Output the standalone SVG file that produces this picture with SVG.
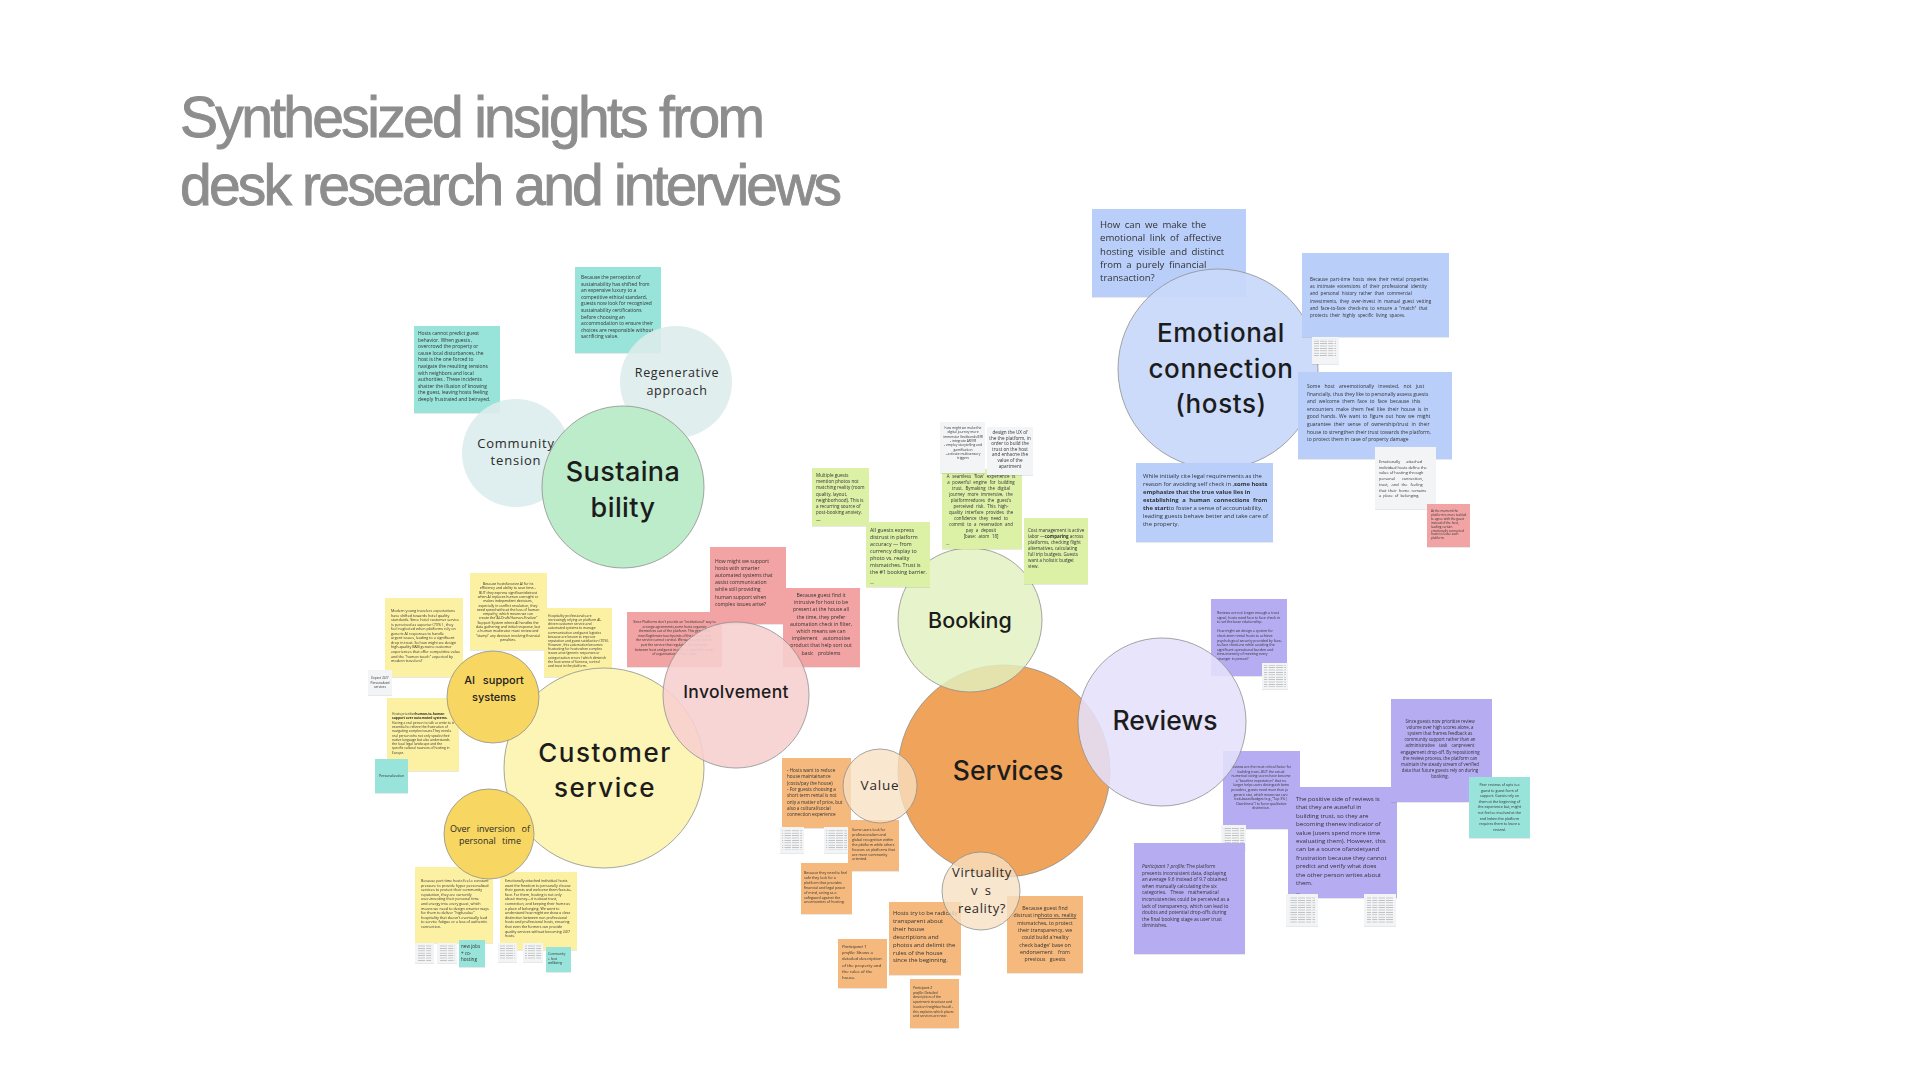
<svg xmlns="http://www.w3.org/2000/svg" width="1920" height="1080" viewBox="0 0 1920 1080">
<defs>
<style>
.title{font-family:"Liberation Sans",Arial,sans-serif;font-weight:400;font-size:57px;fill:#8d8d8d;stroke:#8d8d8d;stroke-width:0.9}
.big{font-family:Inter,"Liberation Sans",sans-serif;font-weight:500;fill:#1c1c1c;text-anchor:middle}
.sub{font-family:"Open Sans","Noto Sans",sans-serif;fill:#2a2a2a;text-anchor:middle}
.n{font-family:"Open Sans","Noto Sans",sans-serif;fill:#333333}
.c{text-anchor:middle}
.circ{stroke:#8f8f8f;stroke-width:0.8}
.teal{fill:#98e3da}
.yel{fill:#fcf1a3}
.pink{fill:#f2a3a3}
.grn{fill:#dcf0a6}
.blu{fill:#b9cffa}
.pur{fill:#b6acf2}
.org{fill:#f5b97d}
.wht{fill:#f3f4f6}
.note{filter:url(#sh)}
</style>
<filter id="sh" x="-10%" y="-10%" width="120%" height="120%">
<feDropShadow dx="0" dy="0.6" stdDeviation="0.7" flood-color="#000" flood-opacity="0.15"/>
</filter>
<pattern id="scrib" width="22" height="2.4" patternUnits="userSpaceOnUse">
<rect x="0" y="0" width="7" height="0.6" fill="#a8a8a8"/>
<rect x="8.2" y="0" width="5" height="0.6" fill="#a8a8a8"/>
<rect x="14.5" y="0" width="6.5" height="0.6" fill="#a8a8a8"/>
</pattern>
</defs>
<rect width="1920" height="1080" fill="#ffffff"/>

<g id="title">
<text class="title" x="180" y="137" textLength="585" lengthAdjust="spacing">Synthesized insights from</text>
<text class="title" x="180" y="205" textLength="662" lengthAdjust="spacing">desk research and interviews</text>
</g>

<g id="connectors"/>

<!-- ============ SUSTAINABILITY ============ -->
<g id="note-hosts-cannot-predict" class="note">
<rect class="teal" x="414" y="326" width="86" height="87"/>
<text class="n" x="418" y="335" font-size="4.9"><tspan x="418">Hosts cannot predict guest</tspan><tspan x="418" dy="6.6">behavior. When guests  ,</tspan><tspan x="418" dy="6.6">overcrowd the property or</tspan><tspan x="418" dy="6.6">cause local disturbances, the</tspan><tspan x="418" dy="6.6">host is the one forced to</tspan><tspan x="418" dy="6.6">navigate the  resulting tensions</tspan><tspan x="418" dy="6.6">with neighbors and local</tspan><tspan x="418" dy="6.6">authorities . These incidents</tspan><tspan x="418" dy="6.6">shatter the illusion of knowing</tspan><tspan x="418" dy="6.6">the guest, leaving hosts feeling</tspan><tspan x="418" dy="6.6">deeply frustrated and betrayed.</tspan></text>
</g>
<g id="note-sustainability-perception" class="note">
<rect class="teal" x="575" y="267" width="86" height="86"/>
<text class="n" x="581" y="279" font-size="4.9"><tspan x="581">Because the perception of</tspan><tspan x="581" dy="6.6">sustainability has shifted from</tspan><tspan x="581" dy="6.6">an expensive luxury to a</tspan><tspan x="581" dy="6.6">competitive ethical standard,</tspan><tspan x="581" dy="6.6">guests now look for recognized</tspan><tspan x="581" dy="6.6">sustainability certifications</tspan><tspan x="581" dy="6.6">before choosing an</tspan><tspan x="581" dy="6.6">accommodation to ensure their</tspan><tspan x="581" dy="6.6">choices are responsible without</tspan><tspan x="581" dy="6.6">sacrificing value.</tspan></text>
</g>
<g id="community-tension">
<circle cx="516" cy="453" r="54" fill="#dcecec" fill-opacity="0.9"/>
<text class="sub" x="516" y="448" font-size="13" letter-spacing="0.8">Community</text>
<text class="sub" x="516" y="465" font-size="13" letter-spacing="0.8">tension</text>
</g>
<g id="regenerative-approach">
<circle cx="676" cy="382" r="56" fill="#dcecec" fill-opacity="0.88"/>
<text class="sub" x="677" y="377" font-size="12.5" letter-spacing="0.7">Regenerative</text>
<text class="sub" x="677" y="395" font-size="12.5" letter-spacing="0.7">approach</text>
</g>
<g id="sustainability">
<circle class="circ" cx="623" cy="487" r="81" fill="#bcecca"/>
<text class="big" x="623" y="481" font-size="27" letter-spacing="0.4">Sustaina</text>
<text class="big" x="623" y="517" font-size="27" letter-spacing="0.4">bility</text>
</g>

<!-- ============ CUSTOMER SERVICE ============ -->
<g id="note-modern-travelers" class="note">
<rect class="yel" x="385" y="598" width="78" height="79"/>
<text class="n" x="391" y="612" font-size="3.7"><tspan x="391">Modern young travelers expectations</tspan><tspan x="391" dy="4.55">have shifted towards hotel quality</tspan><tspan x="391" dy="4.55">standards. Since hotel customer service</tspan><tspan x="391" dy="4.55">is perceived as superior (73% ) , they</tspan><tspan x="391" dy="4.55">feel neglected when platforms rely on</tspan><tspan x="391" dy="4.55">generic AI responses to handle</tspan><tspan x="391" dy="4.55">urgent issues, leading to a significant</tspan><tspan x="391" dy="4.55">drop in trust. So how might we design</tspan><tspan x="391" dy="4.55">high-quality B&amp;B genuine customer</tspan><tspan x="391" dy="4.55">experiences that offer competitive value</tspan><tspan x="391" dy="4.55">and the "human touch" expected by</tspan><tspan x="391" dy="4.55">modern travelers?</tspan></text>
</g>
<g id="note-ai-efficiency" class="note">
<rect class="yel" x="470" y="573" width="77" height="77"/>
<text class="n c" x="508" y="585" font-size="3.5"><tspan x="508">Because  hostsfavorize AI for its</tspan><tspan x="508" dy="4.3">efficiency and ability to save time...</tspan><tspan x="508" dy="4.3">BUT they express significantdistrust</tspan><tspan x="508" dy="4.3">when AI replaces human oversight or</tspan><tspan x="508" dy="4.3">makes independent decisions,</tspan><tspan x="508" dy="4.3">especially in conflict resolution, they</tspan><tspan x="508" dy="4.3">need speed without the loss of human</tspan><tspan x="508" dy="4.3">empathy, which means we can</tspan><tspan x="508" dy="4.3">create  the"AI-Draft/Human-Finalize"</tspan><tspan x="508" dy="4.3">Support  System where AI handles the</tspan><tspan x="508" dy="4.3">data gathering and initial response, but</tspan><tspan x="508" dy="4.3">a human moderator must review and</tspan><tspan x="508" dy="4.3">"stamp" any decision involving financial</tspan><tspan x="508" dy="4.3">penalties.</tspan></text>
</g>
<g id="note-hospitality-professionals" class="note">
<rect class="yel" x="544" y="608" width="68" height="69"/>
<text class="n" x="548" y="617" font-size="3.3"><tspan x="548">Hospitality professionals are</tspan><tspan x="548" dy="4.15">increasingly relying on platform AI-</tspan><tspan x="548" dy="4.15">driven customer service and</tspan><tspan x="548" dy="4.15">automated systems to manage</tspan><tspan x="548" dy="4.15">communication and guest logistics</tspan><tspan x="548" dy="4.15">because are known to improve</tspan><tspan x="548" dy="4.15">reputation and guest satisfaction (70%).</tspan><tspan x="548" dy="4.15">However, this automation becomes</tspan><tspan x="548" dy="4.15">frustrating for hosts when complex</tspan><tspan x="548" dy="4.15">issues arise (generic responses or</tspan><tspan x="548" dy="4.15">categorization errors ) which diminish</tspan><tspan x="548" dy="4.15">the host sense of fairness, control</tspan><tspan x="548" dy="4.15">and trust in the platform.</tspan></text>
</g>
<g id="note-expect-24-7" class="note">
<rect class="wht" x="368" y="670" width="24" height="25"/>
<text class="n c" x="380" y="679" font-size="3.2"><tspan x="380">Expect 24/7</tspan><tspan x="380" dy="4.5">Personalized</tspan><tspan x="380" dy="4.5">services</tspan></text>
</g>
<g id="note-human-to-human" class="note">
<rect class="yel" x="387" y="698" width="72" height="73"/>
<text class="n" x="392" y="715" font-size="3.3"><tspan x="392">Hosts prioritize</tspan><tspan font-weight="700">human-to-human</tspan><tspan x="392" dy="4.3" font-weight="700">support over automated systems.</tspan><tspan x="392" dy="4.3">Having a real person to talk or write to is</tspan><tspan x="392" dy="4.3">essential to relieve the frustration of</tspan><tspan x="392" dy="4.3">navigating complex issues.They need a</tspan><tspan x="392" dy="4.3">real person who not only speaks their</tspan><tspan x="392" dy="4.3">native language but also understands</tspan><tspan x="392" dy="4.3">the local legal landscape and the</tspan><tspan x="392" dy="4.3">specific cultural nuances of hosting in</tspan><tspan x="392" dy="4.3">Europe.</tspan></text>
</g>
<g id="note-personalization" class="note">
<rect class="teal" x="375" y="759" width="33" height="34"/>
<text class="n c" x="391.5" y="777" font-size="3.5">Personalization</text>
</g>
<g id="note-part-time-pressure" class="note">
<rect class="yel" x="415" y="867" width="78" height="76"/>
<text class="n" x="421" y="882" font-size="3.7"><tspan x="421">Because part time hosts feel a constant</tspan><tspan x="421" dy="4.6">pressure to provide hyper personalized</tspan><tspan x="421" dy="4.6">services to protect their community</tspan><tspan x="421" dy="4.6">reputation, they are currently</tspan><tspan x="421" dy="4.6">over-investing their personal time</tspan><tspan x="421" dy="4.6">and energy into every guest, which</tspan><tspan x="421" dy="4.6">means we need to design smarter ways</tspan><tspan x="421" dy="4.6">for them to deliver "high-value"</tspan><tspan x="421" dy="4.6">hospitality that doesn't eventually lead</tspan><tspan x="421" dy="4.6">to service fatigue or a loss of authentic</tspan><tspan x="421" dy="4.6">connection.</tspan></text>
</g>
<g id="note-emotionally-attached-freedom" class="note">
<rect class="yel" x="500" y="872" width="77" height="78"/>
<text class="n" x="505" y="882" font-size="3.6"><tspan x="505">Emotionally attached individual hosts</tspan><tspan x="505" dy="4.6">want the freedom to personally choose</tspan><tspan x="505" dy="4.6">their guests and welcome them face-to-</tspan><tspan x="505" dy="4.6">face. For them, hosting is not only</tspan><tspan x="505" dy="4.6">about money—it is about trust,</tspan><tspan x="505" dy="4.6">connection, and keeping their home as</tspan><tspan x="505" dy="4.6">a place of belonging. We want to</tspan><tspan x="505" dy="4.6">understand how might we draw a clear</tspan><tspan x="505" dy="4.6">distinction between non professional</tspan><tspan x="505" dy="4.6">hosts and professional hosts, ensuring</tspan><tspan x="505" dy="4.6">that even the formers can provide</tspan><tspan x="505" dy="4.6">quality services without becoming 24/7</tspan><tspan x="505" dy="4.6">hosts.</tspan></text>
</g>
<g id="thumbs-customer-service" class="note">
<rect class="wht" x="415" y="943" width="19" height="20"/><rect x="417" y="945" width="15" height="16" fill="url(#scrib)"/>
<rect class="wht" x="437" y="943" width="20" height="20"/><rect x="439" y="945" width="16" height="16" fill="url(#scrib)"/>
<rect class="wht" x="498" y="943" width="19" height="19"/><rect x="500" y="945" width="15" height="15" fill="url(#scrib)"/>
<rect class="wht" x="523" y="943" width="20" height="19"/><rect x="525" y="945" width="16" height="15" fill="url(#scrib)"/>
</g>
<g id="note-new-jobs" class="note">
<rect class="teal" x="459" y="940" width="26" height="27"/>
<text class="n" x="461" y="948" font-size="4.6"><tspan x="461">new jobs</tspan><tspan x="461" dy="6.5">+ co-</tspan><tspan x="461" dy="6.5">hosting</tspan></text>
</g>
<g id="note-community-wellbeing" class="note">
<rect class="teal" x="546" y="947" width="25" height="25"/>
<text class="n" x="548" y="955" font-size="3.2"><tspan x="548">Community</tspan><tspan x="548" dy="4.6">+ host</tspan><tspan x="548" dy="4.6">wellbeing</tspan></text>
</g>
<g id="customer-service">
<circle class="circ" cx="604" cy="768" r="100" fill="#fdf5b6"/>
<text class="big" x="605" y="762" font-size="26" letter-spacing="1.5">Customer</text>
<text class="big" x="605" y="797" font-size="26" letter-spacing="1.5">service</text>
</g>
<g id="ai-support-systems">
<circle class="circ" cx="493" cy="697" r="46" fill="#f7d662"/>
<text class="big" x="494" y="684" font-size="11" word-spacing="5">AI support</text>
<text class="big" x="494" y="701" font-size="11">systems</text>
</g>
<g id="over-inversion">
<circle class="circ" cx="489" cy="834" r="45" fill="#f7d662"/>
<text class="sub" x="490" y="832" font-size="9" word-spacing="4">Over inversion of</text>
<text class="sub" x="490" y="844" font-size="9" word-spacing="4">personal time</text>
</g>

<!-- ============ INVOLVEMENT ============ -->
<g id="note-smarter-automated" class="note">
<rect class="pink" x="710" y="547" width="76" height="77"/>
<text class="n" x="715" y="563" font-size="5.1"><tspan x="715">How might we support</tspan><tspan x="715" dy="7.1">hosts with smarter</tspan><tspan x="715" dy="7.1">automated systems that</tspan><tspan x="715" dy="7.1">assist communication</tspan><tspan x="715" dy="7.1">while still providing</tspan><tspan x="715" dy="7.1">human support when</tspan><tspan x="715" dy="7.1">complex issues arise?</tspan></text>
</g>
<g id="note-institutional-way" class="note">
<rect class="pink" x="627" y="612" width="95" height="55"/>
<text class="n c" x="674.5" y="623" font-size="3.3"><tspan x="674.5">Since Platforms don't provide an "institutional" way to</tspan><tspan x="674.5" dy="4.6">arrange  agreements,some  hosts  organize</tspan><tspan x="674.5" dy="4.6">themselves  out  of  the  platform.  This  generates</tspan><tspan x="674.5" dy="4.6">new illegitimate touchpoints of the service, that</tspan><tspan x="674.5" dy="4.6">the service cannot control. We want tomprove  the</tspan><tspan x="674.5" dy="4.6">part  the  service  that  regulates  the  exchange</tspan><tspan x="674.5" dy="4.6">between host and guest in order to meet the needs</tspan><tspan x="674.5" dy="4.6">of organisations of the hosts.</tspan></text>
</g>
<g id="note-intrusive-host" class="note">
<rect class="pink" x="783" y="588" width="77" height="79"/>
<text class="n c" x="821" y="597" font-size="5.1"><tspan x="821">Because guest find it</tspan><tspan x="821" dy="7.2">intrusive for host to be</tspan><tspan x="821" dy="7.2">present at the house all</tspan><tspan x="821" dy="7.2">the time, they prefer</tspan><tspan x="821" dy="7.2">automation check in filter,</tspan><tspan x="821" dy="7.2">which means we can</tspan><tspan x="821" dy="7.2" word-spacing="4">implement automotive</tspan><tspan x="821" dy="7.2">product that help sort out</tspan><tspan x="821" dy="7.2" word-spacing="3">basic problems</tspan></text>
</g>
<g id="involvement">
<circle class="circ" cx="736" cy="695" r="73" fill="#f7cfcf" fill-opacity="0.88"/>
<text class="big" x="736" y="698" font-size="17.5" letter-spacing="0.3">Involvement</text>
</g>

<!-- ============ SERVICES ============ -->
<g id="services">
<circle class="circ" cx="1004" cy="771" r="106" fill="#f0a35b"/>
<text class="big" x="1008" y="780" font-size="26.5">Services</text>
</g>

<!-- ============ BOOKING ============ -->
<g id="booking">
<circle class="circ" cx="970" cy="620" r="72" fill="#e2f2c0" fill-opacity="0.82"/>
<text class="big" x="970" y="628" font-size="21.5">Booking</text>
</g>
<g id="note-photos-not-matching" class="note">
<rect class="grn" x="812" y="468" width="57" height="58"/>
<text class="n" x="816" y="477" font-size="4.6"><tspan x="816">Multiple guests</tspan><tspan x="816" dy="6.2">mention photos not</tspan><tspan x="816" dy="6.2">matching reality (room</tspan><tspan x="816" dy="6.2">quality, layout,</tspan><tspan x="816" dy="6.2">neighborhood). This is</tspan><tspan x="816" dy="6.2">a recurring source of</tspan><tspan x="816" dy="6.2">post-booking anxiety.</tspan><tspan x="816" dy="8">—</tspan></text>
</g>
<g id="note-distrust-accuracy" class="note">
<rect class="grn" x="866" y="522" width="64" height="65"/>
<text class="n" x="870" y="532" font-size="5.3"><tspan x="870">All guests express</tspan><tspan x="870" dy="7">distrust in platform</tspan><tspan x="870" dy="7">accuracy — from</tspan><tspan x="870" dy="7">currency display to</tspan><tspan x="870" dy="7">photo vs. reality</tspan><tspan x="870" dy="7">mismatches. Trust is</tspan><tspan x="870" dy="7">the #1 booking barrier.</tspan><tspan x="870" dy="10" font-size="4">—</tspan></text>
</g>
<g id="note-seamless-flow" class="note">
<rect class="grn" x="942" y="469" width="80" height="80"/>
<text class="n c" x="981" y="478" font-size="4.4"><tspan x="981" word-spacing="1.5">A seamless 'flow' experience is</tspan><tspan x="981" dy="6" word-spacing="1.5">a powerful engine for building</tspan><tspan x="981" dy="6" word-spacing="1.5">trust. Bymaking the digital</tspan><tspan x="981" dy="6" word-spacing="1.5">journey more immersive, the</tspan><tspan x="981" dy="6" word-spacing="1.5">platformreduces the guest's</tspan><tspan x="981" dy="6" word-spacing="1.5">perceived risk. This high-</tspan><tspan x="981" dy="6" word-spacing="1.5">quality interface provides the</tspan><tspan x="981" dy="6" word-spacing="1.5">confidence they need to</tspan><tspan x="981" dy="6" word-spacing="1.5">commit to a reservation and</tspan><tspan x="981" dy="6" word-spacing="1.5">pay a deposit</tspan><tspan x="981" dy="6" word-spacing="1.5">[base: atom 18]</tspan></text>
<text class="n" x="946" y="545" font-size="3.5">—</text>
</g>
<g id="note-cost-management" class="note">
<rect class="grn" x="1024" y="518" width="64" height="66"/>
<text class="n" x="1028" y="532" font-size="4.5"><tspan x="1028">Cost management is active</tspan><tspan x="1028" dy="6">labor  —</tspan><tspan font-weight="700">comparing</tspan><tspan> across</tspan><tspan x="1028" dy="6">platforms, checking flight</tspan><tspan x="1028" dy="6">alternatives, calculating</tspan><tspan x="1028" dy="6">full trip budgets. Guests</tspan><tspan x="1028" dy="6">want a holistic budget</tspan><tspan x="1028" dy="6">view.</tspan></text>
</g>
<g id="note-digital-journey" class="note">
<rect class="wht" x="940" y="422" width="45" height="51"/>
<text class="n c" x="963" y="429" font-size="3.3"><tspan x="963">how might we make the</tspan><tspan x="963" dy="4.3">digital journey more</tspan><tspan x="963" dy="4.3">immersive  (levitbonds/ER)</tspan><tspan x="963" dy="4.3">- integrate AR/VR</tspan><tspan x="963" dy="4.3">- employ storytelling and</tspan><tspan x="963" dy="4.3">gamification</tspan><tspan x="963" dy="4.3">- activate multisensory</tspan><tspan x="963" dy="4.3">triggers</tspan></text>
</g>
<g id="note-design-ux" class="note">
<rect class="wht" x="987" y="427" width="46" height="48"/>
<text class="n c" x="1010" y="434" font-size="4.6"><tspan x="1010">design the UX of</tspan><tspan x="1010" dy="5.6">the  the platform, in</tspan><tspan x="1010" dy="5.6">order to build the</tspan><tspan x="1010" dy="5.6">trust on the host</tspan><tspan x="1010" dy="5.6">and enhacne the</tspan><tspan x="1010" dy="5.6">value of the</tspan><tspan x="1010" dy="5.6">apartment</tspan></text>
</g>

<!-- ============ VALUE / VIRTUALITY NOTES ============ -->
<g id="note-reduce-maintainance" class="note">
<rect class="org" x="782" y="758" width="69" height="70"/>
<text class="n" x="787" y="772" font-size="4.6"><tspan x="787">- Hosts want to reduce</tspan><tspan x="787" dy="6.3">house maintainance</tspan><tspan x="787" dy="6.3">(costs/pay the house)</tspan><tspan x="787" dy="6.3">- For guests choosing a</tspan><tspan x="787" dy="6.3">short term rental is not</tspan><tspan x="787" dy="6.3">only a matter of price, but</tspan><tspan x="787" dy="6.3">also a cultural/social</tspan><tspan x="787" dy="6.3">connection  experience</tspan></text>
</g>
<g id="thumbs-value" class="note">
<rect class="wht" x="780" y="827" width="24" height="26"/><rect x="782" y="829" width="20" height="21" fill="url(#scrib)"/>
<rect class="wht" x="824" y="827" width="26" height="26"/><rect x="826" y="829" width="21" height="21" fill="url(#scrib)"/>
</g>
<g id="note-professionalism" class="note">
<rect class="org" x="848" y="820" width="51" height="51"/>
<text class="n" x="852" y="831" font-size="3.6"><tspan x="852">Some users look for</tspan><tspan x="852" dy="4.9">professionalism and</tspan><tspan x="852" dy="4.9">global recognition within</tspan><tspan x="852" dy="4.9">the platform while others</tspan><tspan x="852" dy="4.9">focuses on platforms that</tspan><tspan x="852" dy="4.9">are more community</tspan><tspan x="852" dy="4.9">oriented.</tspan></text>
</g>
<g id="note-feel-safe" class="note">
<rect class="org" x="801" y="863" width="51" height="51"/>
<text class="n" x="804" y="874" font-size="3.6"><tspan x="804">Because they need to feel</tspan><tspan x="804" dy="4.9">safe they look for a</tspan><tspan x="804" dy="4.9">platform that provides</tspan><tspan x="804" dy="4.9">financial and legal peace</tspan><tspan x="804" dy="4.9">of mind, acting as a</tspan><tspan x="804" dy="4.9">safeguard against the</tspan><tspan x="804" dy="4.9">uncertainties of hosting.</tspan></text>
</g>
<g id="note-radically-transparent" class="note">
<rect class="org" x="889" y="902" width="72" height="73"/>
<text class="n" x="893" y="915" font-size="5.9"><tspan x="893">Hosts try to be radically</tspan><tspan x="893" dy="7.9">transparent about</tspan><tspan x="893" dy="7.9">their house</tspan><tspan x="893" dy="7.9">descriptions and</tspan><tspan x="893" dy="7.9">photos and delimit the</tspan><tspan x="893" dy="7.9">rules of the house</tspan><tspan x="893" dy="7.9">since the beginning.</tspan></text>
</g>
<g id="note-reality-check-badge" class="note">
<rect class="org" x="1007" y="896" width="76" height="77"/>
<text class="n c" x="1045" y="910" font-size="5.2"><tspan x="1045">Because guest find</tspan><tspan x="1045" dy="7.3">distrust in<tspan text-decoration="underline">photo vs. reality</tspan></tspan><tspan x="1045" dy="7.3">mismatches, to protect</tspan><tspan x="1045" dy="7.3">their transparency, we</tspan><tspan x="1045" dy="7.3">could build a'reality</tspan><tspan x="1045" dy="7.3">check badge' base on</tspan><tspan x="1045" dy="7.3" word-spacing="4">endorsement from</tspan><tspan x="1045" dy="7.3" word-spacing="3">previous guests</tspan></text>
</g>
<g id="note-participant1-description" class="note">
<rect class="org" x="838" y="939" width="49" height="49"/>
<text class="n" x="842" y="948" font-size="4.3"><tspan x="842" font-style="italic">Participant 1</tspan><tspan x="842" dy="6.2" font-style="italic">profile:</tspan><tspan> Shows a</tspan><tspan x="842" dy="6.2">detailed description</tspan><tspan x="842" dy="6.2">of the property and</tspan><tspan x="842" dy="6.2">the rules of the</tspan><tspan x="842" dy="6.2">house.</tspan></text>
</g>
<g id="note-participant2-description" class="note">
<rect class="org" x="910" y="979" width="49" height="49"/>
<text class="n" x="913" y="989" font-size="3.4"><tspan x="913" font-style="italic">Participant 2</tspan><tspan x="913" dy="4.7" font-style="italic">profile:</tspan><tspan> Detailed</tspan><tspan x="913" dy="4.7">description of the</tspan><tspan x="913" dy="4.7">apartment structure and</tspan><tspan x="913" dy="4.7">location (neighborhood) -</tspan><tspan x="913" dy="4.7">this explains which places</tspan><tspan x="913" dy="4.7">and services are near.</tspan></text>
</g>
<g id="value">
<circle class="circ" cx="880" cy="786" r="37" fill="#f8e0c2" fill-opacity="0.78"/>
<text class="sub" x="880" y="790" font-size="13.5" letter-spacing="0.8">Value</text>
</g>
<g id="virtuality-vs-reality">
<circle class="circ" cx="981" cy="891" r="39" fill="#f8e0c2" fill-opacity="0.8"/>
<text class="sub" x="982" y="877" font-size="13" letter-spacing="0.6">Virtuality</text>
<text class="sub" x="982" y="895" font-size="13" letter-spacing="2">v s</text>
<text class="sub" x="982" y="913" font-size="13" letter-spacing="0.6">reality?</text>
</g>

<!-- ============ REVIEWS ============ -->
<g id="note-reviews-not-enough" class="note">
<rect class="pur" x="1211" y="599" width="76" height="77"/>
<text class="n" x="1217" y="614" font-size="3.5"><tspan x="1217">Reviews are not longer enough a trust</tspan><tspan x="1217" dy="4.6">signal, hosts need face to face check in</tspan><tspan x="1217" dy="4.6">to set the base relationship.</tspan><tspan x="1217" dy="9.2">How might we design a system for</tspan><tspan x="1217" dy="4.6">short-term rental hosts to achieve</tspan><tspan x="1217" dy="4.6">psychological security provided by face-</tspan><tspan x="1217" dy="4.6">to-face check-ins while avoiding the</tspan><tspan x="1217" dy="4.6">significant operational burden and</tspan><tspan x="1217" dy="4.6">time-intensity of meeting every</tspan><tspan x="1217" dy="4.6">stranger in person?</tspan></text>
</g>
<g id="note-reviews-critical-factor" class="note">
<rect class="pur" x="1223" y="751" width="77" height="78"/>
<text class="n c" x="1261" y="768" font-size="3.4"><tspan x="1261">Reviews are the most critical factor for</tspan><tspan x="1261" dy="4.6">building  trust...BUT the actual</tspan><tspan x="1261" dy="4.6">numerical  rating  scores  have  become</tspan><tspan x="1261" dy="4.6">a  "baseline  expectation"  that  no</tspan><tspan x="1261" dy="4.6">longer helps users distinguish betw</tspan><tspan x="1261" dy="4.6">providers, guests need more than just</tspan><tspan x="1261" dy="4.6">generic star, which means we can i</tspan><tspan x="1261" dy="4.6">trait-based  badges  (e.g.,"Top 3% |</tspan><tspan x="1261" dy="4.6">Cleanliness") to force qualitative</tspan><tspan x="1261" dy="4.6">distinction.</tspan></text>
</g>
<g id="reviews">
<circle class="circ" cx="1162" cy="722" r="84" fill="#e4e0fb" fill-opacity="0.88"/>
<text class="big" x="1165" y="730" font-size="26.5">Reviews</text>
</g>
<g id="thumbs-reviews" class="note">
<rect class="wht" x="1262" y="663" width="26" height="26"/><rect x="1264" y="665" width="22" height="22" fill="url(#scrib)"/>
<rect class="wht" x="1221" y="825" width="25" height="25"/><rect x="1223" y="827" width="21" height="20" fill="url(#scrib)"/>
</g>
<g id="note-participant1-inconsistent" class="note">
<rect class="pur" x="1134" y="843" width="111" height="111"/>
<text class="n" x="1142" y="868" font-size="4.8"><tspan x="1142" font-style="italic">Participant 1 profile:</tspan><tspan> The platform</tspan><tspan x="1142" dy="6.6">presents inconsistent data, displaying</tspan><tspan x="1142" dy="6.6">an average 9.6 instead of 9.7 obtained</tspan><tspan x="1142" dy="6.6">when manually calculating the six</tspan><tspan x="1142" dy="6.6" word-spacing="3">categories. These mathematical</tspan><tspan x="1142" dy="6.6">inconsistencies could be perceived as a</tspan><tspan x="1142" dy="6.6">lack of transparency, which can lead to</tspan><tspan x="1142" dy="6.6">doubts and potential drop-offs during</tspan><tspan x="1142" dy="6.6">the final booking stage as user trust</tspan><tspan x="1142" dy="6.6">diminishes.</tspan></text>
</g>
<g id="note-positive-side" class="note">
<rect class="pur" x="1288" y="787" width="109" height="111"/>
<text class="n" x="1296" y="801" font-size="6.1"><tspan x="1296">The positive side of reviews is</tspan><tspan x="1296" dy="8.4">that they are auseful   in</tspan><tspan x="1296" dy="8.4">building   trust, so they are</tspan><tspan x="1296" dy="8.4">becoming   thenew indicator of</tspan><tspan x="1296" dy="8.4">value (users spend more time</tspan><tspan x="1296" dy="8.4">evaluating them). However, this</tspan><tspan x="1296" dy="8.4">can be a source ofanxietyand</tspan><tspan x="1296" dy="8.4">frustration because they cannot</tspan><tspan x="1296" dy="8.4">predict and verify what does</tspan><tspan x="1296" dy="8.4">the other person writes about</tspan><tspan x="1296" dy="8.4">them.</tspan></text>
<text class="n" x="1296" y="894" font-size="4">—</text>
</g>
<g id="thumbs-reviews-2" class="note">
<rect class="wht" x="1286" y="894" width="32" height="32"/><rect x="1289" y="897" width="26" height="26" fill="url(#scrib)"/>
<rect class="wht" x="1364" y="894" width="32" height="32"/><rect x="1367" y="897" width="26" height="26" fill="url(#scrib)"/>
</g>
<g id="note-review-volume" class="note">
<rect class="pur" x="1391" y="699" width="101" height="103"/>
<text class="n c" x="1440" y="723" font-size="4.4"><tspan x="1440">Since guests now prioritize review</tspan><tspan x="1440" dy="6.1">volume over high scores alone, a</tspan><tspan x="1440" dy="6.1">system that frames feedback as</tspan><tspan x="1440" dy="6.1">community support rather than an</tspan><tspan x="1440" dy="6.1" word-spacing="3">administrative task canprevent</tspan><tspan x="1440" dy="6.1">engagement  drop-off. By repositioning</tspan><tspan x="1440" dy="6.1">the review process, the platform can</tspan><tspan x="1440" dy="6.1">maintain the steady stream of verified</tspan><tspan x="1440" dy="6.1">data that future guests rely on during</tspan><tspan x="1440" dy="6.1">booking.</tspan></text>
</g>
<g id="note-peer-reviews" class="note">
<rect class="teal" x="1469" y="777" width="61" height="61"/>
<text class="n c" x="1499.5" y="786" font-size="3.6"><tspan x="1499.5">Peer reviews of apts is a</tspan><tspan x="1499.5" dy="5.6">guest to guest form of</tspan><tspan x="1499.5" dy="5.6">support. Guests rely on</tspan><tspan x="1499.5" dy="5.6">them at the beginning of</tspan><tspan x="1499.5" dy="5.6">the experience but, might</tspan><tspan x="1499.5" dy="5.6">not feel so involved at the</tspan><tspan x="1499.5" dy="5.6">end (when the platform</tspan><tspan x="1499.5" dy="5.6">requires them to leave a</tspan><tspan x="1499.5" dy="5.6">review).</tspan></text>
</g>

<!-- ============ EMOTIONAL CONNECTION ============ -->
<g id="note-emotional-link" class="note">
<rect class="blu" x="1092" y="209" width="154" height="88"/>
<text class="n" x="1100" y="228" font-size="9.6" word-spacing="2"><tspan x="1100">How can we make the</tspan><tspan x="1100" dy="13.3">emotional link of affective</tspan><tspan x="1100" dy="13.3">hosting visible and distinct</tspan><tspan x="1100" dy="13.3">from a purely financial</tspan><tspan x="1100" dy="13.3">transaction?</tspan></text>
</g>
<g id="emotional-connection">
<circle class="circ" cx="1218" cy="369" r="100" fill="#c8d8fa" fill-opacity="0.93"/>
<text class="big" x="1221" y="342" font-size="26" font-weight="600" letter-spacing="0.6">Emotional</text>
<text class="big" x="1221" y="378" font-size="26" font-weight="600" letter-spacing="0.6">connection</text>
<text class="big" x="1221" y="413" font-size="26" font-weight="600" letter-spacing="0.6">(hosts)</text>
</g>
<g id="note-intimate-extensions" class="note">
<rect class="blu" x="1302" y="253" width="147" height="84"/>
<text class="n" x="1310" y="281" font-size="4.6" word-spacing="1.2"><tspan x="1310">Because part-time hosts view their rental properties</tspan><tspan x="1310" dy="7.2">as intimate extensions of their professional identity</tspan><tspan x="1310" dy="7.2">and personal history rather than commercial</tspan><tspan x="1310" dy="7.2">investments, they over-invest in manual guest vetting</tspan><tspan x="1310" dy="7.2">and face-to-face check-ins to ensure a "match" that</tspan><tspan x="1310" dy="7.2">protects their highly specific living spaces.</tspan></text>
</g>
<g id="thumb-emotional" class="note">
<rect class="wht" x="1312" y="337" width="27" height="27"/><rect x="1314" y="339" width="22" height="18" fill="url(#scrib)"/>
</g>
<g id="note-emotionally-invested" class="note">
<rect class="blu" x="1298" y="372" width="154" height="87"/>
<text class="n" x="1307" y="388" font-size="5"><tspan x="1307" word-spacing="3">Some host areemotionally invested, not just</tspan><tspan x="1307" dy="7.6">financially, thus they like to personally assess guests</tspan><tspan x="1307" dy="7.6" word-spacing="1.5">and welcome them face to face because this</tspan><tspan x="1307" dy="7.6" word-spacing="1.2">encounters make them feel like their house is in</tspan><tspan x="1307" dy="7.6" word-spacing="1">good hands. We want to figure out how we might</tspan><tspan x="1307" dy="7.6" word-spacing="1.5">guarantee their sense of ownership/trust in their</tspan><tspan x="1307" dy="7.6">house to strengthen their trust towards the platform,</tspan><tspan x="1307" dy="7.6">to protect them in case of property damage</tspan></text>
</g>
<g id="note-place-of-belonging" class="note">
<rect class="wht" x="1375" y="447" width="61" height="62"/>
<text class="n" x="1379" y="463" font-size="3.9"><tspan x="1379" word-spacing="5">Emotionally attached</tspan><tspan x="1379" dy="5.7">individual hosts define the</tspan><tspan x="1379" dy="5.7">value of hosting through</tspan><tspan x="1379" dy="5.7" word-spacing="6">personal connection,</tspan><tspan x="1379" dy="5.7" word-spacing="2">trust, and the feeling</tspan><tspan x="1379" dy="5.7" word-spacing="1">that their home remains</tspan><tspan x="1379" dy="5.7" word-spacing="1">a place of belonging.</tspan></text>
</g>
<g id="note-platform-tackled" class="note">
<rect class="pink" x="1427" y="504" width="43" height="43"/>
<text class="n" x="1431" y="512" font-size="3.1"><tspan x="1431">At the moment the</tspan><tspan x="1431" dy="3.9">platform is more tackled</tspan><tspan x="1431" dy="3.9">to agree with the guest</tspan><tspan x="1431" dy="3.9">instead of the host,</tspan><tspan x="1431" dy="3.9">leading certain</tspan><tspan x="1431" dy="3.9">emotionally connected</tspan><tspan x="1431" dy="3.9">hosts to leave such</tspan><tspan x="1431" dy="3.9">platform.</tspan></text>
</g>
<g id="note-legal-requirements" class="note">
<rect class="blu" x="1136" y="463" width="137" height="79"/>
<text class="n" x="1143" y="478" font-size="5.9"><tspan x="1143">While initially  cite legal requirements as the</tspan><tspan x="1143" dy="8">reason for avoiding self check in ,</tspan><tspan font-weight="700">some hosts</tspan><tspan x="1143" dy="8" font-weight="700">emphasize that the true value lies in</tspan><tspan x="1143" dy="8" font-weight="700" word-spacing="2">establishing a human connections from</tspan><tspan x="1143" dy="8" font-weight="700">the  start</tspan><tspan>to foster a sense of accountability,</tspan><tspan x="1143" dy="8">leading guests behave better and take care of</tspan><tspan x="1143" dy="8">the property.</tspan></text>
</g>
</svg>
